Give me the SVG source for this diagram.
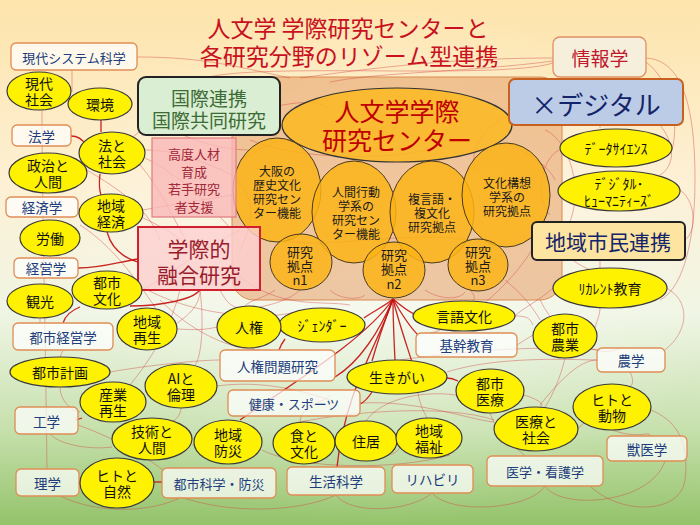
<svg xmlns="http://www.w3.org/2000/svg" width="700" height="525" viewBox="0 0 700 525">
<defs>
<linearGradient id="bg" x1="0" y1="0" x2="0" y2="1">
<stop offset="0" stop-color="#fde4ab"/>
<stop offset="0.35" stop-color="#fdf0d4"/>
<stop offset="0.6" stop-color="#eff5e4"/>
<stop offset="0.82" stop-color="#c6e0ac"/>
<stop offset="1" stop-color="#94c36a"/>
</linearGradient>
<radialGradient id="glow" cx="0.55" cy="0.5" r="0.5">
<stop offset="0" stop-color="#ffffff" stop-opacity="0.45"/>
<stop offset="1" stop-color="#ffffff" stop-opacity="0"/>
</radialGradient>
<style>
.t{fill:none;stroke:#d04848;stroke-width:0.8;stroke-opacity:0.55}
.d{fill:none;stroke:#c40d0d;stroke-width:1.3;stroke-opacity:0.9}
.y{fill:#fff200;stroke:#3a3a3a;stroke-width:1.2}
.o{fill:#fbb416;fill-opacity:0.85;stroke:#4a3a20;stroke-width:1}
.b{fill:#ffffff;fill-opacity:0.72;stroke:#df8d55;stroke-width:1.3}
text{font-family:"Noto Sans CJK JP","Noto Sans CJK SC",sans-serif;text-anchor:middle;dominant-baseline:central}
.yt{font-size:14px;fill:#111}
.bt{font-size:13.5px;fill:#203c7c}
.bs{font-size:13px;fill:#203c7c}
.ot{font-size:12px;fill:#1a1a1a}
.nt{font-size:13px;fill:#1a1a1a}
.ht{font-size:14px;fill:#111}
</style>
</defs>
<rect width="700" height="525" fill="url(#bg)"/>
<rect width="700" height="525" fill="url(#glow)"/>

<g id="title" fill="#c8101e">
<text x="348" y="27" font-size="23" fill="#c8101e">人文学 学際研究センターと</text>
<text x="349" y="55" font-size="23" fill="#c8101e">各研究分野のリゾーム型連携</text>
</g>

<g id="center-area">
<rect x="232" y="77" width="330" height="223" rx="22" fill="#e4955a" fill-opacity="0.5" stroke="#d88a50" stroke-width="1"/>
</g>

<g id="connectors">
<path class="t" d="M137,57 C200,57 230,65 290,78"/>
<path class="t" d="M553,58 C470,58 400,64 300,78"/>
<path class="t" d="M553,61 C470,72 380,72 330,82"/>
<path class="t" d="M553,63 C500,80 260,62 205,78"/>
<path class="t" d="M646,58 C680,60 695,100 695,180 C695,250 680,290 660,300"/>
<path class="t" d="M646,62 C670,80 680,120 672,150"/>
<path class="t" d="M600,77 L600,128"/>
<path class="t" d="M660,125 C680,150 670,170 660,175"/>
<path class="t" d="M509,115 C480,130 470,150 475,170"/>
<path class="t" d="M545,130 C570,140 590,200 560,240"/>
<path class="t" d="M559,150 C540,160 535,200 550,215"/>
<path class="t" d="M72,70 L72,92"/>
<path class="t" d="M42,110 C42,200 45,300 47,470"/>
<path class="t" d="M145,150 C175,150 200,160 232,175"/>
<path class="t" d="M145,158 C180,175 210,205 230,228"/>
<path class="t" d="M140,165 C170,200 180,240 200,258"/>
<path class="t" d="M143,210 C170,205 200,200 233,195"/>
<path class="t" d="M143,218 C170,230 190,245 200,258"/>
<path class="t" d="M142,290 C170,275 200,250 240,230"/>
<path class="t" d="M80,225 C120,250 150,300 170,330"/>
<path class="t" d="M130,140 C160,110 200,100 240,120"/>
<path class="t" d="M87,170 C120,190 150,210 160,240"/>
<path class="t" d="M200,290 C200,310 180,320 175,325"/>
<path class="t" d="M220,290 C230,310 240,310 249,306"/>
<path class="t" d="M180,290 C170,330 150,360 130,385"/>
<path class="t" d="M200,290 C205,330 200,360 195,365"/>
<path class="t" d="M142,287 C200,320 280,320 300,310"/>
<path class="t" d="M110,372 C150,365 200,360 220,360"/>
<path class="t" d="M60,387 C60,400 70,410 80,412"/>
<path class="t" d="M78,425 C120,440 150,460 163,470"/>
<path class="t" d="M50,434 C60,445 90,450 112,447"/>
<path class="t" d="M178,496 C230,515 300,512 336,495"/>
<path class="t" d="M336,495 C350,515 410,512 432,493"/>
<path class="t" d="M432,493 C450,515 530,510 545,486"/>
<path class="t" d="M545,486 C560,510 650,505 665,461"/>
<path class="t" d="M60,496 C100,515 150,512 180,498"/>
<path class="t" d="M192,445 C205,445 212,446 218,447"/>
<path class="t" d="M181,408 C180,420 170,425 160,420"/>
<path class="t" d="M217,386 C260,380 300,390 330,400"/>
<path class="t" d="M262,450 C300,470 400,470 450,455"/>
<path class="t" d="M335,443 C360,460 400,460 400,445"/>
<path class="t" d="M418,393 C420,405 424,412 427,418"/>
<path class="t" d="M524,395 C540,400 545,405 540,407"/>
<path class="t" d="M578,428 C590,420 580,420 574,410"/>
<path class="t" d="M612,430 C640,440 650,430 650,436"/>
<path class="t" d="M630,372 C635,382 632,386 628,388"/>
<path class="t" d="M597,360 C580,360 560,380 540,405"/>
<path class="t" d="M565,358 C560,380 550,400 545,407"/>
<path class="t" d="M447,372 C500,355 580,360 597,360"/>
<path class="t" d="M400,360 C470,350 550,345 600,350"/>
<path class="t" d="M360,403 C420,400 470,420 494,422"/>
<path class="t" d="M300,422 C360,410 450,405 494,420"/>
<path class="t" d="M366,421 C380,400 420,390 456,395"/>
<path class="t" d="M300,422 C300,405 330,400 330,395"/>
<path class="t" d="M490,413 C500,440 520,450 525,456"/>
<path class="t" d="M651,410 C675,420 690,440 685,480 C680,515 620,515 590,486"/>
<path class="t" d="M517,345 C540,330 560,320 565,314"/>
<path class="t" d="M515,316 C530,316 530,320 533,325"/>
<path class="t" d="M562,250 C570,260 580,265 590,270"/>
<path class="t" d="M600,308 C600,320 590,330 597,340"/>
<path class="t" d="M553,288 C540,300 520,310 515,316"/>
<path class="t" d="M666,288 C690,300 690,330 665,350"/>
<path class="t" d="M680,190 C695,200 698,230 685,240"/>
<path class="t" d="M540,300 C560,340 600,360 620,348"/>
<path class="t" d="M260,110 C300,100 320,100 330,110"/>
<path class="t" d="M240,160 C260,150 270,140 290,140"/>
<path class="t" d="M520,150 C540,160 550,170 555,180"/>
<path class="t" d="M330,290 C340,300 360,300 365,295"/>
<path class="t" d="M425,290 C440,300 460,300 465,292"/>
<path class="t" d="M470,290 C480,300 470,305 464,301"/>
<path class="t" d="M505,280 C530,300 540,320 540,320"/>
<path class="t" d="M600,260 L600,268"/>
<path class="t" d="M532,250 C500,300 450,330 430,333"/>
<path class="t" d="M300,290 C290,300 270,305 260,307"/>
<path class="t" d="M275,290 C260,300 250,300 245,306"/>
<path class="t" d="M177,329 C195,330 205,330 217,327"/>
<path class="t" d="M63,350 L60,357"/>
<path class="t" d="M40,318 L40,323"/>
<path class="t" d="M250,140 C300,160 380,160 430,150"/>
<path class="t" d="M280,240 C330,250 400,230 470,240"/>
<path class="t" d="M150,120 C190,140 220,150 250,150"/>
<path class="t" d="M236,180 C260,200 250,230 240,250"/>
<path class="t" d="M160,300 C200,340 240,350 260,350"/>
<path class="t" d="M238,275 C280,310 320,300 350,305"/>
<path class="d" d="M71,136 C79,136 83,140 86,145"/>
<path class="d" d="M101,120 L101,132"/>
<path class="d" d="M100,174 C99,182 99,189 101,195"/>
<path class="d" d="M107,232 C112,250 124,258 138,262"/>
<path class="d" d="M78,268 C102,268 118,262 138,259"/>
<path class="d" d="M130,306 C160,306 192,300 200,290"/>
<path class="d" d="M63,323 C66,314 72,310 80,307"/>
<path class="d" d="M76,420 L82,418"/>
<path class="d" d="M153,482 L163,482"/>
<path class="d" d="M393,299 C385,306 372,312 364,318"/>
<path class="d" d="M393,299 C380,330 360,362 335,377"/>
<path class="d" d="M393,299 C385,320 378,340 372,361"/>
<path class="d" d="M393,299 C393,320 394,340 395,360"/>
<path class="d" d="M393,299 C398,320 405,340 412,362"/>
<path class="d" d="M393,299 C400,305 406,310 414,314"/>
<path class="d" d="M393,299 C402,315 410,327 418,335"/>
<path class="d" d="M393,299 C378,345 345,390 337,467"/>
<path class="d" d="M393,299 C365,340 290,385 240,420"/>
<path class="d" d="M372,392 C368,398 365,402 360,404"/>
<path class="d" d="M447,378 C451,378 454,379 458,381"/>
<path class="d" d="M285,339 C282,343 280,347 279,350"/>
</g>

<g id="orange-nodes">
<g id="n-center"><ellipse cx="397" cy="125" rx="115" ry="37" fill="#fbb824" fill-opacity="0.88" stroke="#333" stroke-width="1.2"/><text x="397" y="110" font-size="25" fill="#c00000">人文学学際</text><text x="397" y="139" font-size="25" fill="#c00000">研究センター</text></g>
<g id="n-osaka"><ellipse class="o" cx="277" cy="190" rx="44" ry="52"/><text class="ot" x="277" y="170">大阪の</text><text class="ot" x="277" y="184">歴史文化</text><text class="ot" x="277" y="198">研究セン</text><text class="ot" x="277" y="212">ター機能</text></g>
<g id="n-ningen"><ellipse class="o" cx="354" cy="212" rx="42" ry="51"/><text class="ot" x="356" y="191">人間行動</text><text class="ot" x="356" y="205">学系の</text><text class="ot" x="356" y="219">研究セン</text><text class="ot" x="356" y="233">ター機能</text></g>
<g id="n-fukugengo"><ellipse class="o" cx="432" cy="212" rx="42" ry="51"/><text class="ot" x="432" y="198">複言語・</text><text class="ot" x="432" y="212">複文化</text><text class="ot" x="432" y="226">研究拠点</text></g>
<g id="n-bunka"><ellipse class="o" cx="506" cy="195" rx="44" ry="52"/><text class="ot" x="507" y="182">文化構想</text><text class="ot" x="507" y="196">学系の</text><text class="ot" x="507" y="210">研究拠点</text></g>
<g id="n-n1"><ellipse class="o" cx="301" cy="262" rx="31" ry="28"/><text class="nt" x="300" y="251">研究</text><text class="nt" x="300" y="265">拠点</text><text class="nt" x="300" y="279">n1</text></g>
<g id="n-n2"><ellipse class="o" cx="394" cy="270" rx="31" ry="28"/><text class="nt" x="394" y="254">研究</text><text class="nt" x="394" y="268">拠点</text><text class="nt" x="394" y="283">n2</text></g>
<g id="n-n3"><ellipse class="o" cx="478" cy="265" rx="30" ry="26"/><text class="nt" x="478" y="251">研究</text><text class="nt" x="478" y="265">拠点</text><text class="nt" x="478" y="279">n3</text></g>
</g>

<g id="n-kokusai"><rect x="138" y="77" width="142" height="58" rx="8" fill="#d9eed2" stroke="#222" stroke-width="2"/><text x="209" y="97" font-size="19" fill="#3d6b35">国際連携</text><text x="209" y="119" font-size="19" fill="#3d6b35">国際共同研究</text></g>
<g id="n-koudo"><rect x="152" y="138" width="84" height="79" fill="#f9b8b8" fill-opacity="0.8" stroke="#e07a80" stroke-width="1.2"/><text x="194" y="153" font-size="13" fill="#a0283a">高度人材</text><text x="194" y="171" font-size="13" fill="#a0283a">育成</text><text x="194" y="188" font-size="13" fill="#a0283a">若手研究</text><text x="194" y="206" font-size="13" fill="#a0283a">者支援</text></g>
<g id="n-gakusai"><rect x="138" y="227" width="122" height="63" fill="#fcd0d0" fill-opacity="0.8" stroke="#d02030" stroke-width="2"/><text x="199" y="248" font-size="21" fill="#9a1c2c">学際的</text><text x="199" y="274" font-size="21" fill="#9a1c2c">融合研究</text></g>
<g id="n-digital"><rect x="509" y="79" width="174" height="46" rx="6" fill="#bccce6" stroke="#c86020" stroke-width="2"/><text x="596" y="103" font-size="26" fill="#13246a">×デジタル</text></g>
<g id="n-johogaku"><rect x="553" y="37" width="93" height="40" rx="7" fill="#f6efdc" stroke="#e09060" stroke-width="1.3"/><text x="600" y="57" font-size="19" fill="#c0182c">情報学</text></g>
<g id="n-chiiki-shimin"><rect x="532" y="222" width="153" height="38" rx="5" fill="#fde4a0" stroke="#222" stroke-width="2"/><text x="608" y="241" font-size="21" fill="#13246a">地域市民連携</text></g>

<g id="boxes">
<g id="b-gendai-sys"><rect class="b" x="11" y="43" width="126" height="27" rx="5"/><text class="bs" x="74" y="57">現代システム科学</text></g>
<g id="b-hougaku"><rect class="b" x="12" y="125" width="59" height="21" rx="5"/><text class="bt" x="41.5" y="135.5">法学</text></g>
<g id="b-keizaigaku"><rect class="b" x="6" y="197" width="72" height="20" rx="5"/><text class="bt" x="42" y="207">経済学</text></g>
<g id="b-keieigaku"><rect class="b" x="14" y="258" width="64" height="20" rx="5"/><text class="bt" x="46" y="268">経営学</text></g>
<g id="b-toshikeiei"><rect class="b" x="13" y="323" width="100" height="27" rx="5"/><text class="bt" x="63" y="336.5">都市経営学</text></g>
<g id="b-kougaku"><rect class="b" x="15" y="407" width="63" height="27" rx="5"/><text class="bt" x="46.5" y="420.5">工学</text></g>
<g id="b-rigaku"><rect class="b" x="16" y="469" width="63" height="27" rx="5"/><text class="bt" x="47.5" y="482.5">理学</text></g>
<g id="b-toshikagaku"><rect class="b" x="162" y="468" width="114" height="30" rx="5"/><text class="bs" x="219" y="483">都市科学・防災</text></g>
<g id="b-jinken-kenkyu"><rect class="b" x="220" y="350" width="115" height="31" rx="5"/><text class="bt" x="277.5" y="365.5">人権問題研究</text></g>
<g id="b-kenkou"><rect class="b" x="228" y="390" width="132" height="26" rx="5"/><text class="bs" x="294" y="403">健康・スポーツ</text></g>
<g id="b-seikatsu"><rect class="b" x="287" y="467" width="98" height="28" rx="5"/><text class="bt" x="336" y="481">生活科学</text></g>
<g id="b-rihabiri"><rect class="b" x="392" y="465" width="81" height="28" rx="5"/><text class="bt" x="432.5" y="479">リハビリ</text></g>
<g id="b-kikan"><rect class="b" x="416" y="333" width="101" height="24" rx="5"/><text class="bt" x="466.5" y="345">基幹教育</text></g>
<g id="b-igaku"><rect class="b" x="487" y="456" width="116" height="30" rx="5"/><text class="bs" x="545" y="471">医学・看護学</text></g>
<g id="b-juui"><rect class="b" x="607" y="436" width="80" height="25" rx="5"/><text class="bt" x="647" y="448.5">獣医学</text></g>
<g id="b-nougaku"><rect class="b" x="597" y="348" width="68" height="24" rx="5"/><text class="bt" x="631" y="360">農学</text></g>
</g>

<g id="yellow-nodes">
<g id="y-gendai"><ellipse class="y" cx="39" cy="91" rx="32" ry="19"/><text class="yt" x="39" y="83">現代</text><text class="yt" x="39" y="99">社会</text></g>
<g id="y-kankyo"><ellipse class="y" cx="100" cy="104" rx="32" ry="16"/><text class="yt" x="100" y="104">環境</text></g>
<g id="y-hou"><ellipse class="y" cx="112" cy="153" rx="33" ry="21"/><text class="yt" x="112" y="145">法と</text><text class="yt" x="112" y="161">社会</text></g>
<g id="y-seiji"><ellipse class="y" cx="48" cy="173" rx="39" ry="20"/><text class="yt" x="48" y="165">政治と</text><text class="yt" x="48" y="181">人間</text></g>
<g id="y-chiiki-keizai"><ellipse class="y" cx="111" cy="213" rx="32" ry="19"/><text class="yt" x="111" y="205">地域</text><text class="yt" x="111" y="221">経済</text></g>
<g id="y-roudou"><ellipse class="y" cx="50" cy="238" rx="30" ry="18"/><text class="yt" x="50" y="238">労働</text></g>
<g id="y-kankou"><ellipse class="y" cx="40" cy="301" rx="33" ry="17"/><text class="yt" x="40" y="301">観光</text></g>
<g id="y-toshibunka"><ellipse class="y" cx="107" cy="290" rx="35" ry="19"/><text class="yt" x="107" y="282">都市</text><text class="yt" x="107" y="298">文化</text></g>
<g id="y-chiiki-saisei"><ellipse class="y" cx="147" cy="329" rx="30" ry="21"/><text class="yt" x="147" y="321">地域</text><text class="yt" x="147" y="337">再生</text></g>
<g id="y-toshikeikaku"><ellipse class="y" cx="60" cy="372" rx="50" ry="15"/><text class="yt" x="60" y="372">都市計画</text></g>
<g id="y-sangyou"><ellipse class="y" cx="113" cy="402" rx="33" ry="20"/><text class="yt" x="113" y="394">産業</text><text class="yt" x="113" y="410">再生</text></g>
<g id="y-ai"><ellipse class="y" cx="181" cy="386" rx="36" ry="22"/><text class="yt" x="181" y="378">AIと</text><text class="yt" x="181" y="394">倫理</text></g>
<g id="y-gijutsu"><ellipse class="y" cx="152" cy="439" rx="40" ry="21"/><text class="yt" x="152" y="431">技術と</text><text class="yt" x="152" y="447">人間</text></g>
<g id="y-hito-shizen"><ellipse class="y" cx="117" cy="483" rx="37" ry="25"/><text class="yt" x="117" y="475">ヒトと</text><text class="yt" x="117" y="491">自然</text></g>
<g id="y-bousai"><ellipse class="y" cx="228" cy="442" rx="34" ry="22"/><text class="yt" x="228" y="434">地域</text><text class="yt" x="228" y="450">防災</text></g>
<g id="y-shoku"><ellipse class="y" cx="304" cy="443" rx="31" ry="21"/><text class="yt" x="304" y="435">食と</text><text class="yt" x="304" y="451">文化</text></g>
<g id="y-jukyo"><ellipse class="y" cx="366" cy="441" rx="31" ry="20"/><text class="yt" x="366" y="441">住居</text></g>
<g id="y-fukushi"><ellipse class="y" cx="429" cy="438" rx="33" ry="20"/><text class="yt" x="429" y="430">地域</text><text class="yt" x="429" y="446">福祉</text></g>
<g id="y-gender"><ellipse class="y" cx="322" cy="325" rx="43" ry="17"/><text class="ht" x="322" y="325">ｼﾞｪﾝﾀﾞｰ</text></g>
<g id="y-jinken"><ellipse class="y" cx="249" cy="327" rx="32" ry="21"/><text class="yt" x="249" y="327">人権</text></g>
<g id="y-ikigai"><ellipse class="y" cx="397" cy="377" rx="50" ry="17"/><text class="yt" x="397" y="377">生きがい</text></g>
<g id="y-gengo"><ellipse class="y" cx="464" cy="316" rx="51" ry="15"/><text class="yt" x="464" y="316">言語文化</text></g>
<g id="y-nougyou"><ellipse class="y" cx="565" cy="336" rx="32" ry="22"/><text class="yt" x="565" y="328">都市</text><text class="yt" x="565" y="344">農業</text></g>
<g id="y-iryou"><ellipse class="y" cx="490" cy="391" rx="34" ry="22"/><text class="yt" x="490" y="383">都市</text><text class="yt" x="490" y="399">医療</text></g>
<g id="y-iryou-shakai"><ellipse class="y" cx="536" cy="429" rx="42" ry="22"/><text class="yt" x="536" y="421">医療と</text><text class="yt" x="536" y="437">社会</text></g>
<g id="y-hito-doubutsu"><ellipse class="y" cx="612" cy="407" rx="39" ry="23"/><text class="yt" x="612" y="399">ヒトと</text><text class="yt" x="612" y="415">動物</text></g>
<g id="y-recurrent"><ellipse class="y" cx="610" cy="288" rx="57" ry="20"/><text class="ht" x="610" y="288">ﾘｶﾚﾝﾄ教育</text></g>
<g id="y-datascience"><ellipse class="y" cx="616" cy="148" rx="56" ry="19"/><text class="ht" x="616" y="148">ﾃﾞｰﾀｻｲｴﾝｽ</text></g>
<g id="y-dh"><ellipse class="y" cx="619" cy="191" rx="61" ry="20"/><text class="ht" x="619" y="183">ﾃﾞｼﾞﾀﾙ･</text><text class="ht" x="619" y="200">ﾋｭｰﾏﾆﾃｨｰｽﾞ</text></g>
</g>
</svg>
